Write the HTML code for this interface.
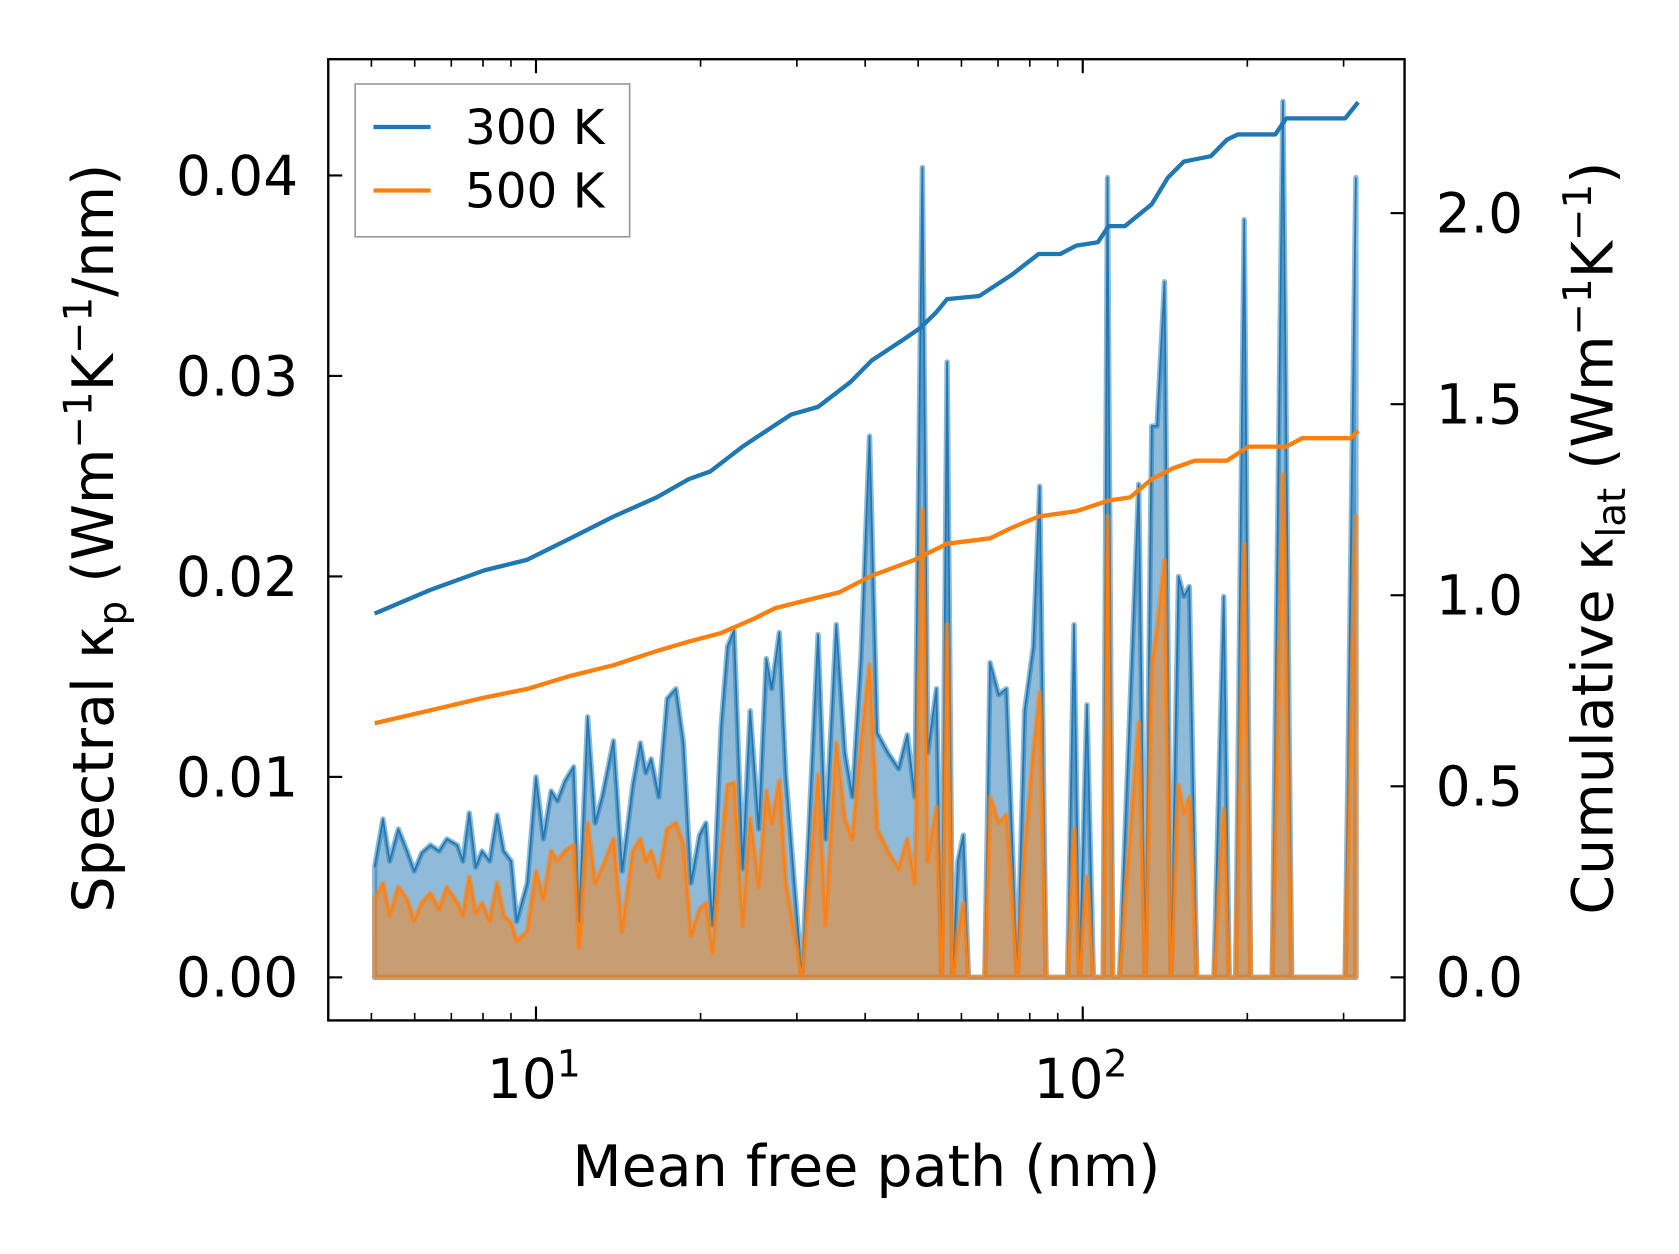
<!DOCTYPE html>
<html><head><meta charset="utf-8"><style>
html,body{margin:0;padding:0;background:#fff;}
svg{display:block;font-family:"DejaVu Sans","Liberation Sans",sans-serif;}
</style></head><body>
<svg id="chart" width="1679" height="1254" viewBox="0 0 1560 1165" preserveAspectRatio="none" xmlns="http://www.w3.org/2000/svg">
<g id="fills"></g>
<g id="lines"></g>
<g id="axes"></g>
<rect x="305" y="55" width="1000" height="893" fill="none" stroke="#000" stroke-width="2.2"/>
<g>
<rect x="330" y="78" width="255" height="142" fill="#fff" fill-opacity="0.8" stroke="#999" stroke-width="1.5"/>
<line x1="347" y1="118" x2="400" y2="118" stroke="#1f77b4" stroke-width="4"/>
<text x="432" y="134" font-size="45">300 K</text>
<line x1="347" y1="177" x2="400" y2="177" stroke="#ff7f0e" stroke-width="4"/>
<text x="432" y="193" font-size="45">500 K</text>
</g>
<text x="805" y="1102" font-size="53" text-anchor="middle">Mean free path (nm)</text>
<text transform="translate(105,500) rotate(-90)" font-size="53" text-anchor="middle">Spectral κ<tspan font-size="36" dy="12">p</tspan><tspan dy="-12"> (Wm</tspan><tspan font-size="36" dy="-20">−1</tspan><tspan dy="20">K</tspan><tspan font-size="36" dy="-20">−1</tspan><tspan dy="20">/nm)</tspan></text>
<text transform="translate(1498,500) rotate(-90)" font-size="53" text-anchor="middle">Cumulative κ<tspan font-size="36" dy="12">lat</tspan><tspan dy="-12"> (Wm</tspan><tspan font-size="36" dy="-20">−1</tspan><tspan dy="20">K</tspan><tspan font-size="36" dy="-20">−1</tspan><tspan dy="20">)</tspan></text>
</svg>
<script>
const mfpSpec=[5.07,5.25,5.40,5.60,5.81,5.99,6.18,6.41,6.65,6.87,7.18,7.35,7.55,7.76,7.97,8.23,8.49,8.73,9.01,9.22,9.64,10.0,10.32,10.66,10.95,11.30,11.72,11.99,12.43,12.83,13.24,13.86,14.37,15.04,15.52,15.88,16.24,16.77,17.38,18.03,18.61,19.21,19.92,20.46,21.03,21.81,22.41,23.03,23.88,24.65,25.56,26.38,26.98,27.86,28.63,30.64,32.8,33.85,35.42,36.73,37.91,39.31,40.74,42.07,44.03,46.07,47.76,49.3,50.90,52.07,54.0,55.2,56.5,57.8,59.1,60.5,61.8,66.2,67.7,70.2,72.5,75.9,78.3,81.2,83.4,85.7,93.8,96.4,98.6,101.8,104.6,109.0,111.0,113.5,116.7,126.6,130.1,133.7,136.7,141.1,145.0,149.7,153.1,156.6,161.7,173.8,181.1,185.3,190.4,197.4,202.8,222.1,232.3,241.0,302,316];
const spec300=[0.0055,0.0079,0.0058,0.0074,0.0063,0.0053,0.0062,0.0066,0.0063,0.0069,0.0066,0.0058,0.0082,0.0055,0.0063,0.0058,0.0081,0.0063,0.0058,0.0028,0.0047,0.0100,0.0069,0.0093,0.0088,0.0098,0.0105,0.0028,0.0130,0.0077,0.0091,0.0118,0.0053,0.0096,0.0117,0.0102,0.0109,0.0090,0.0139,0.0144,0.0117,0.0047,0.0071,0.0077,0.0026,0.0125,0.0165,0.0173,0.0054,0.0133,0.0074,0.0159,0.0144,0.0172,0.0101,0,0.0171,0.0069,0.0176,0.0112,0.0090,0.0160,0.0270,0.0122,0.0112,0.0104,0.0121,0.0090,0.0404,0.0112,0.0144,0,0.0307,0,0.0058,0.0071,0,0,0.0157,0.0141,0.0144,0,0.0133,0.0165,0.0245,0,0,0.0176,0,0.0136,0,0,0.0399,0,0,0.0246,0,0.0275,0.0275,0.0347,0,0.0200,0.0190,0.0195,0,0,0.0190,0,0,0.0378,0,0,0.0437,0,0,0.0399];
const spec500=[0.0039,0.0047,0.0031,0.0045,0.0039,0.0028,0.0037,0.0042,0.0034,0.0045,0.0037,0.0031,0.0050,0.0032,0.0037,0.0028,0.0047,0.0031,0.0027,0.0018,0.0023,0.0053,0.0039,0.0063,0.0058,0.0063,0.0066,0.0015,0.0077,0.0047,0.0055,0.0069,0.0023,0.0063,0.0069,0.0058,0.0063,0.0050,0.0074,0.0077,0.0066,0.0021,0.0034,0.0037,0.0012,0.0063,0.0096,0.0097,0.0026,0.0079,0.0045,0.0093,0.0077,0.0098,0.0047,0,0.0101,0.0026,0.0117,0.0079,0.0069,0.0117,0.0156,0.0074,0.0063,0.0054,0.0069,0.0047,0.0233,0.0058,0.0085,0,0.0176,0,0.0020,0.0037,0,0,0.0090,0.0077,0.0081,0,0.0063,0.0112,0.0142,0,0,0.0074,0,0.0050,0,0,0.0230,0,0,0.0127,0,0.0155,0.0173,0.0208,0,0.0096,0.0082,0.0090,0,0,0.0084,0,0,0.0216,0,0,0.0251,0,0,0.0230];
const mfpCum300=[5.07,6.41,8.04,9.64,11.56,13.86,16.62,19.03,20.84,23.88,27.35,29.28,32.8,37.6,41.1,47.1,50.4,54.0,56.5,64.7,74.2,83.0,90.9,97.3,106.6,111.5,119.4,133.7,143.1,153.1,171.5,183.6,192.1,225,235.5,302,319];
const cum300=[0.952,1.014,1.065,1.093,1.149,1.206,1.256,1.304,1.324,1.389,1.445,1.473,1.493,1.558,1.614,1.670,1.699,1.741,1.775,1.783,1.839,1.893,1.893,1.915,1.924,1.966,1.966,2.023,2.093,2.135,2.149,2.192,2.206,2.206,2.248,2.248,2.290];
const mfpCum500=[5.07,6.41,8.04,9.64,11.56,13.86,16.62,19.03,21.81,24.98,27.35,29.9,35.9,41.1,49.3,56.5,67.7,74.2,83.0,97.3,111.5,122.1,133.7,146.3,160.2,183.6,201,235.5,252,309,319];
const cum500=[0.665,0.699,0.732,0.755,0.789,0.817,0.854,0.879,0.901,0.938,0.966,0.980,1.008,1.051,1.093,1.135,1.149,1.177,1.206,1.220,1.248,1.256,1.304,1.332,1.352,1.352,1.389,1.389,1.411,1.411,1.431];
const leftTicks=[0,0.01,0.02,0.03,0.04];
const leftTickLabels=["0.00","0.01","0.02","0.03","0.04"];
const rightTicks=[0,0.5,1.0,1.5,2.0];
const rightTickLabels=["0.0","0.5","1.0","1.5","2.0"];
const xDecades=[10,100];
const xDecadeExp=["1","2"];

const NS="http://www.w3.org/2000/svg";
const X=v=>498+(Math.log10(v)-1)*508;
const YL=v=>908-v/0.04*745;
const YR=v=>908-v/2*710;
function mk(tag,attrs,parent){const e=document.createElementNS(NS,tag);for(const k in attrs)e.setAttribute(k,attrs[k]);parent.appendChild(e);return e;}
const fills=document.getElementById('fills'),lines=document.getElementById('lines'),axes=document.getElementById('axes');

function spectral(vals,color,name){
  let d='M'+X(mfpSpec[0])+','+YL(0);
  let l='';
  mfpSpec.forEach((m,i)=>{d+=' L'+X(m).toFixed(1)+','+YL(vals[i]).toFixed(1);l+=(i?' L':'M')+X(m).toFixed(1)+','+YL(vals[i]).toFixed(1);});
  d+=' L'+X(mfpSpec[mfpSpec.length-1])+','+YL(0)+' Z';
  const a=mk('path',{d:d,fill:color,'fill-opacity':0.5,stroke:color,'stroke-opacity':0.5,'stroke-width':5,'stroke-linejoin':'round'},fills);
  
  
  const b=mk('path',{d:l,fill:'none',stroke:color,'stroke-width':1.6,'stroke-linejoin':'round'},fills);
  
  
}
spectral(spec300,'#1f77b4','spectral-300k');
spectral(spec500,'#ff7f0e','spectral-500k');

function cum(ms,vals,color,name){
  let d='';ms.forEach((m,i)=>{d+=(i?' L':'M')+X(m).toFixed(1)+','+YR(vals[i]).toFixed(1);});
  const p=mk('path',{d:d,fill:'none',stroke:color,'stroke-width':4,'stroke-linejoin':'round'},lines);
  
  
}
cum(mfpCum300,cum300,'#1f77b4','cumulative-300k');
cum(mfpCum500,cum500,'#ff7f0e','cumulative-500k');

leftTicks.forEach((t,i)=>{const y=YL(t);
  const tk=mk('line',{x1:305,x2:318,y1:y,y2:y,stroke:'#000','stroke-width':2},axes);
  
  
  const tx=mk('text',{x:277,y:y+18,'font-size':51,'text-anchor':'end'},axes);tx.textContent=leftTickLabels[i];
  
  
});
rightTicks.forEach((t,i)=>{const y=YR(t);
  const tk=mk('line',{x1:1292,x2:1305,y1:y,y2:y,stroke:'#000','stroke-width':2},axes);
  
  
  const tx=mk('text',{x:1334,y:y+18,'font-size':51},axes);tx.textContent=rightTickLabels[i];
  
  
});
for(let dec=1;dec<=100;dec*=10){for(let k=1;k<10;k++){const v=dec*k;const x=X(v);if(x<305||x>1305)continue;
  const major=(k===1);const len=major?13:7;
  [[948,948-len],[55,55+len]].forEach(([a,b])=>{const tk=mk('line',{x1:x,x2:x,y1:a,y2:b,stroke:'#000','stroke-width':major?2:1.5},axes);
    
    });
}}
xDecades.forEach((v,i)=>{const tx=mk('text',{x:X(v)-2,y:1020,'font-size':51,'text-anchor':'middle'},axes);
  
  
  tx.textContent='10';const s=mk('tspan',{'font-size':35,dy:-20},tx);s.textContent=xDecadeExp[i];});
</script>
</body></html>
